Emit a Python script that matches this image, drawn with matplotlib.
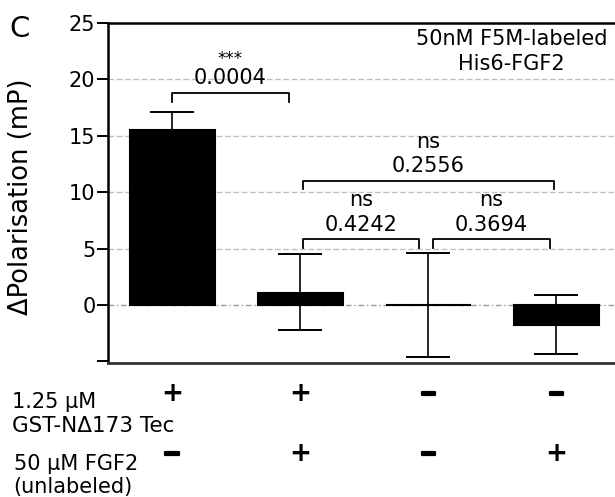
import matplotlib.pyplot as plt
import matplotlib.patheffects as pe
from matplotlib.transforms import blended_transform_factory

plt.rcParams['font.family'] = ['DejaVu Sans']

# data
groups = [0, 1, 2, 3]
means = [15.5, 1.1, 0.0, -1.77]
err_low = [0.0, 3.35, 4.6, 2.6]
err_high = [1.65, 3.4, 4.6, 2.65]
tec_row = ['+', '+', '−', '−']
fgf2_row = ['−', '+', '−', '+']

# significance brackets: (x_left, x_right, y_top, leg_bottom, p text, star text)
brackets = [
    (0.0, 0.91, 18.8, 18.0, '0.0004', '***'),
    (1.02, 2.98, 11.0, 10.3, '0.2556', 'ns'),
    (1.02, 1.93, 5.85, 5.05, '0.4242', 'ns'),
    (2.04, 2.95, 5.85, 5.05, '0.3694', 'ns'),
]

fig = plt.figure(figsize=(6.15, 4.97), dpi=100)
ax = fig.add_axes([0.1756, 0.2696, 0.8244, 0.6841])

# grid lines
for yv in [5, 10, 15, 20]:
    ax.axhline(yv, color='#c0c0c0', linestyle=(0, (4, 2)), linewidth=1.0, zorder=0)
ax.axhline(0, color='#999999', linestyle=(0, (4, 2, 1, 2)), linewidth=1.0, zorder=0)

ax.bar(groups, means, width=0.664, color='black', edgecolor='black', linewidth=1.5, zorder=2)
ax.errorbar(groups, means, yerr=[err_low, err_high], fmt='none', ecolor='black',
            elinewidth=1.2, capsize=16, capthick=1.4, zorder=3)

# brackets and p-values
for x0, x1, yt, yb, ptxt, stxt in brackets:
    ax.plot([x0, x0, x1, x1], [yb, yt, yt, yb], color='black', linewidth=1.3, clip_on=False)
    xm = (x0 + x1) / 2
    ax.text(xm, yt + 0.75, ptxt, ha='center', va='baseline', fontsize=15)
    if stxt == '***':
        ax.text(xm, yt + 2.6, stxt, ha='center', va='baseline', fontsize=12)
    else:
        ax.text(xm, yt + 2.95, stxt, ha='center', va='baseline', fontsize=15)

ax.text(2.65, 24.5, '50nM F5M-labeled\nHis6-FGF2', ha='center', va='top',
        fontsize=15, linespacing=1.35)

ax.set_xlim(-0.5, 3.46)
ax.set_ylim(-5.15, 25)
ax.set_yticks([-5, 0, 5, 10, 15, 20, 25])
ax.set_yticklabels(['', '0', '5', '10', '15', '20', '25'])
ax.set_xticks([])
ax.tick_params(axis='y', labelsize=15, length=8, width=1.4, pad=1)
for s in ['left', 'top']:
    ax.spines[s].set_linewidth(1.8)
ax.spines['bottom'].set_linewidth(2.0)
ax.spines['bottom'].set_color('#333333')
ax.spines['right'].set_visible(False)
ax.set_ylabel('ΔPolarisation (mP)', fontsize=18.5)
ax.yaxis.set_label_coords(-0.146, 0.49)

fig.text(9 / 615, 1 - 15 / 497, 'C', fontsize=21, ha='left', va='top')

# condition table under the axis
trans = blended_transform_factory(ax.transData, fig.transFigure)
fig.text(12 / 615, 1 - 408 / 497, '1.25 µM', fontsize=15, va='baseline')
fig.text(12 / 615, 1 - 432 / 497, 'GST-NΔ173 Tec', fontsize=15.5, va='baseline')
fig.text(14 / 615, 1 - 470 / 497, '50 µM FGF2', fontsize=15, va='baseline')
fig.text(13 / 615, 1 - 493 / 497, '(unlabeled)', fontsize=15, va='baseline')
thick = [pe.withStroke(linewidth=1.6, foreground='black')]
for g, s1, s2 in zip(groups, tec_row, fgf2_row):
    for s, yy in [(s1, 394), (s2, 454)]:
        if s == '+':
            fig.text(g, 1 - yy / 497, s, transform=trans, ha='center', va='center',
                     fontsize=19, fontweight='bold')
        else:
            fig.text(g, 1 - yy / 497, s, transform=trans, ha='center', va='center',
                     fontsize=15, fontweight='bold', path_effects=thick)

fig.savefig('out.png', dpi=100)
